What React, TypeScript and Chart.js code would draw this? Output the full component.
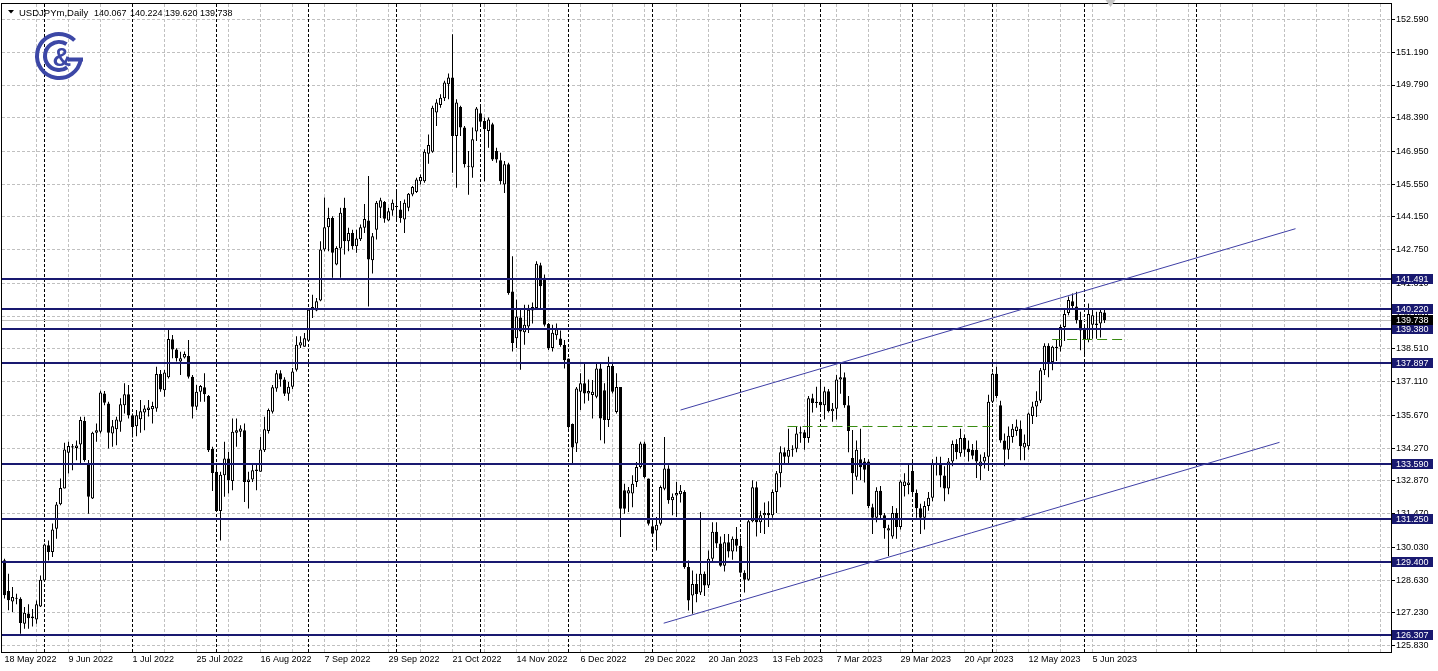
import React, { useEffect, useRef } from 'react';
import { Chart, registerables } from 'chart.js';

Chart.register(...registerables);

const symbolTitle = 'USDJPYm,Daily';
const headerOHLC = ['140.067', '140.224', '139.620', '139.738'];

const dateLabels = [
  '18 May 2022', '9 Jun 2022', '1 Jul 2022', '25 Jul 2022', '16 Aug 2022', '7 Sep 2022',
  '29 Sep 2022', '21 Oct 2022', '14 Nov 2022', '6 Dec 2022', '29 Dec 2022', '20 Jan 2023',
  '13 Feb 2023', '7 Mar 2023', '29 Mar 2023', '20 Apr 2023', '12 May 2023', '5 Jun 2023',
];

const priceTicks = [
  152.59, 151.19, 149.79, 148.39, 146.95, 145.55, 144.15, 142.75, 141.31, 139.91,
  138.51, 137.11, 135.67, 134.27, 132.87, 131.47, 130.03, 128.63, 127.23, 125.83,
];

const levelPrices = [141.491, 140.22, 139.38, 137.897, 133.59, 131.25, 129.4, 126.307];
const bidPrice = 139.738;
const monthStarts = [10, 32, 53, 76, 98, 119, 141, 162, 184, 204, 227, 247, 270, 298];
const channelUpper = [{ x: 169, y: 135.9 }, { x: 322.75, y: 143.65 }];
const channelLower = [{ x: 164.8, y: 126.79 }, { x: 318.75, y: 134.52 }];
const greenSegments = [
  { x1: 195.75, x2: 248.25, y: 135.21 },
  { x1: 261.9, x2: 280.7, y: 138.92 },
];
const shiftMarkerIndex = 276.5;

const opens = [
  129.48, 128.17, 127.72, 127.87, 127.84, 126.77, 127.20, 127.08, 126.95, 127.50,
  128.62, 130.12, 129.83, 130.83, 131.87, 132.55, 134.08, 134.30, 134.28, 134.43,
  135.43, 133.64, 132.12, 134.93, 134.97, 136.61, 136.18, 134.90, 135.08, 135.40,
  136.11, 136.58, 135.68, 135.21, 135.51, 135.80, 135.90, 135.93, 135.97, 137.44,
  136.75, 137.30, 138.92, 138.49, 137.97, 138.15, 138.21, 137.32, 136.04, 136.68,
  136.87, 136.50, 134.25, 133.26, 131.59, 133.11, 133.83, 132.87, 134.93, 134.97,
  135.04, 132.83, 132.93, 133.30, 133.26, 134.18, 135.00, 135.83, 136.82, 137.47,
  137.20, 136.60, 136.90, 137.62, 138.66, 138.60, 138.86, 140.20, 140.15, 140.58,
  142.76, 143.71, 144.11, 142.12, 142.80, 144.54, 143.11, 143.47, 142.90, 143.20,
  143.69, 144.00, 142.30, 143.61, 144.54, 144.79, 144.00, 144.43, 144.58, 144.47,
  144.04, 144.54, 145.11, 145.22, 145.68, 145.68, 146.85, 146.94, 148.61, 148.94,
  149.22, 149.82, 150.11, 147.61, 148.85, 147.97, 146.30, 146.26, 147.80, 148.58,
  148.25, 147.83, 148.11, 146.97, 146.58, 145.54, 146.40, 140.97, 138.97, 139.86,
  139.22, 139.47, 140.15, 140.26, 142.09, 141.55, 139.58, 138.55, 139.10, 138.96,
  138.68, 138.10, 135.30, 134.47, 136.68, 137.04, 136.61, 136.54, 136.47, 137.68,
  136.75, 135.47, 137.78, 135.82, 136.89, 132.47, 132.33, 132.33, 132.82, 133.47,
  134.47, 132.97, 130.93, 130.75, 131.04, 132.54, 133.40, 132.04, 132.25, 132.30,
  132.40, 129.19, 127.97, 128.47, 128.10, 128.90, 128.40, 129.55, 130.70, 130.20,
  129.25, 130.25, 129.85, 130.40, 130.10, 128.95, 128.65, 131.15, 132.60, 131.10,
  131.40, 131.50, 131.40, 132.40, 133.20, 134.10, 133.90, 134.20, 134.25, 134.90,
  134.95, 134.70, 136.40, 136.20, 136.25, 136.10, 136.70, 135.85, 135.95, 137.20,
  137.30, 136.10, 133.85, 133.05, 133.80, 133.70, 133.70, 131.75, 131.30, 132.45,
  131.40, 130.75, 130.50, 131.50, 130.90, 132.65, 132.70, 133.30, 132.35, 131.70,
  131.30, 131.80, 132.15, 133.60, 133.60, 133.10, 132.55, 133.70, 134.45, 134.05,
  134.70, 134.25, 134.20, 134.20, 133.50, 133.70, 133.90, 136.25, 137.45, 136.10,
  134.60, 134.20, 134.75, 135.00, 135.10, 134.30, 134.35, 135.65, 136.05, 136.30,
  137.60, 138.65, 137.95, 138.55, 138.60, 139.45, 140.05, 140.55, 140.32, 139.75,
  139.35, 138.90, 139.55, 139.60, 139.60, 140.067,
];

const highs = [
  129.55, 128.90, 128.34, 128.05, 127.90, 127.48, 127.60, 127.40, 127.76, 128.83,
  130.20, 130.33, 131.05, 131.97, 132.97, 134.50, 134.54, 134.45, 134.60, 135.61,
  135.61, 133.76, 134.97, 135.33, 136.72, 136.71, 136.25, 135.47, 135.61, 136.40,
  137.04, 136.97, 135.75, 135.90, 136.33, 136.11, 136.33, 136.25, 137.75, 137.61,
  137.61, 139.39, 139.11, 138.54, 138.39, 138.40, 138.89, 137.40, 136.97, 136.97,
  137.47, 136.54, 134.33, 133.47, 133.26, 134.54, 134.11, 135.54, 135.54, 135.25,
  135.33, 133.26, 133.64, 133.62, 134.75, 135.61, 135.97, 136.97, 137.61, 137.60,
  137.30, 137.10, 137.70, 139.05, 139.05, 139.19, 140.26, 140.83, 140.69, 143.11,
  144.98, 144.54, 144.18, 142.90, 144.54, 144.97, 143.69, 143.61, 143.61, 143.83,
  144.71, 145.90, 143.47, 144.83, 144.97, 144.83, 144.54, 144.90, 145.33, 144.83,
  144.90, 145.18, 145.47, 145.83, 145.97, 147.04, 147.68, 148.90, 149.18, 149.40,
  149.97, 150.28, 151.96, 149.18, 148.90, 148.04, 146.97, 147.97, 148.85, 148.90,
  148.40, 148.40, 148.18, 147.11, 146.90, 146.54, 146.47, 142.47, 140.61, 140.26,
  140.40, 140.40, 140.50, 142.26, 142.19, 141.69, 139.62, 139.55, 139.60, 139.30,
  138.89, 138.10, 135.32, 136.89, 137.47, 137.90, 137.20, 137.18, 137.90, 137.90,
  137.04, 138.18, 137.90, 137.47, 136.89, 132.75, 132.61, 133.11, 133.68, 134.54,
  134.54, 132.97, 131.18, 131.33, 132.68, 134.75, 133.54, 132.33, 132.82, 132.70,
  132.47, 129.47, 129.04, 128.90, 131.54, 129.00, 129.90, 131.10, 131.10, 130.50,
  130.60, 130.60, 130.50, 130.90, 130.45, 129.05, 131.20, 132.90, 132.85, 131.60,
  131.95, 132.00, 132.50, 133.30, 134.35, 134.30, 135.10, 134.40, 135.20, 135.20,
  135.05, 136.50, 136.60, 136.90, 137.10, 136.90, 136.80, 136.20, 137.40, 137.90,
  137.50, 136.50, 135.05, 134.60, 135.10, 133.85, 133.80, 131.90, 132.60, 132.65,
  131.50, 131.00, 131.80, 131.70, 132.90, 133.20, 133.60, 133.75, 132.50, 131.90,
  132.00, 132.40, 133.80, 133.90, 133.90, 133.50, 133.85, 134.60, 134.65, 135.10,
  134.85, 134.60, 134.45, 134.60, 134.00, 134.10, 136.55, 137.50, 137.75, 136.30,
  134.90, 135.20, 135.30, 135.50, 135.45, 134.85, 135.80, 136.25, 136.70, 137.70,
  138.75, 138.75, 138.65, 138.90, 139.55, 140.20, 140.75, 140.88, 140.95, 140.10,
  139.55, 140.45, 140.20, 140.10, 140.20, 140.224,
];

const lows = [
  127.85, 127.34, 127.27, 127.60, 126.34, 126.55, 126.55, 126.65, 126.77, 127.48,
  128.55, 129.47, 129.62, 130.40, 131.83, 132.55, 133.19, 133.33, 133.75, 133.61,
  133.69, 131.47, 132.10, 134.54, 134.90, 136.11, 134.26, 134.33, 134.40, 134.97,
  135.75, 135.54, 134.73, 134.78, 134.93, 135.04, 135.62, 135.33, 135.83, 136.68,
  136.47, 137.25, 138.11, 137.97, 137.40, 138.10, 137.25, 135.54, 135.90, 136.25,
  136.25, 134.11, 132.44, 131.54, 130.33, 132.19, 132.33, 132.47, 134.33, 134.75,
  131.97, 131.69, 132.83, 132.47, 133.26, 134.11, 134.90, 135.75, 136.68, 136.90,
  136.50, 136.30, 136.80, 137.55, 138.55, 138.60, 138.83, 139.83, 140.12, 140.55,
  142.69, 142.69, 141.55, 142.09, 141.55, 142.55, 142.69, 142.76, 142.62, 143.12,
  143.47, 140.33, 141.73, 143.19, 144.11, 143.90, 143.97, 144.20, 143.97, 143.90,
  143.47, 144.40, 145.04, 145.18, 145.54, 145.61, 146.43, 146.90, 148.04, 148.82,
  149.11, 149.18, 146.04, 145.40, 147.61, 146.26, 145.10, 145.83, 147.40, 148.11,
  145.68, 147.11, 146.54, 146.47, 145.54, 145.18, 140.83, 138.40, 138.55, 137.62,
  138.69, 139.19, 139.60, 140.19, 140.19, 139.47, 138.47, 138.40, 138.90, 138.60,
  137.68, 135.10, 133.60, 134.11, 135.90, 136.18, 136.30, 135.54, 136.40, 134.61,
  134.47, 135.18, 136.61, 135.75, 130.47, 131.47, 131.54, 131.75, 132.61, 133.40,
  132.97, 130.97, 130.54, 129.90, 130.97, 132.47, 131.90, 131.40, 131.33, 131.95,
  129.12, 127.33, 127.19, 127.69, 128.00, 127.95, 128.30, 129.40, 130.00, 129.20,
  129.00, 129.60, 129.50, 129.85, 128.90, 128.10, 128.60, 131.10, 130.50, 130.65,
  130.60, 130.90, 131.30, 131.50, 132.60, 133.60, 133.60, 133.90, 134.10, 134.50,
  134.20, 134.50, 135.80, 136.00, 135.90, 135.50, 135.80, 135.40, 135.50, 136.60,
  136.00, 134.10, 132.30, 132.90, 132.90, 132.80, 131.70, 130.60, 131.10, 131.20,
  130.40, 129.65, 130.40, 130.40, 130.80, 132.20, 132.30, 132.30, 131.30, 130.60,
  130.80, 131.60, 132.00, 133.10, 132.60, 132.00, 132.30, 133.50, 133.80, 133.90,
  133.90, 133.70, 133.80, 133.00, 132.90, 133.40, 133.30, 136.20, 136.40, 134.50,
  133.50, 133.80, 134.50, 134.80, 133.75, 133.75, 134.20, 135.30, 135.60, 136.20,
  137.40, 137.30, 137.60, 138.00, 138.40, 138.85, 139.95, 140.20, 139.60, 138.45,
  138.30, 138.80, 138.95, 138.95, 139.00, 139.620,
];

const closes = [
  127.98, 127.77, 127.91, 127.84, 126.80, 127.24, 127.00, 127.00, 127.60, 128.65,
  130.15, 129.83, 130.79, 131.86, 132.57, 134.21, 134.36, 134.35, 134.38, 135.47,
  133.76, 132.19, 134.93, 135.04, 136.65, 136.21, 134.93, 135.21, 135.50, 136.15,
  136.58, 135.68, 135.18, 135.68, 135.85, 135.97, 136.01, 136.07, 137.44, 136.78,
  137.50, 138.94, 138.49, 138.11, 138.11, 138.29, 137.32, 136.04, 136.68, 136.93,
  136.58, 134.18, 133.21, 131.59, 133.14, 133.83, 132.90, 134.97, 135.04, 135.11,
  132.83, 132.93, 133.33, 133.36, 134.21, 135.08, 135.90, 136.87, 137.47, 137.20,
  136.60, 136.90, 137.55, 138.69, 138.80, 138.97, 140.19, 140.30, 140.55, 142.76,
  143.71, 144.11, 142.62, 142.83, 144.33, 143.11, 143.47, 142.90, 143.23, 143.71,
  144.06, 142.33, 143.33, 144.76, 144.86, 144.07, 144.40, 144.76, 144.60, 144.11,
  144.76, 145.14, 145.43, 145.75, 145.86, 146.94, 147.23, 148.82, 149.04, 149.25,
  149.90, 150.11, 147.61, 149.04, 147.97, 146.40, 146.33, 147.47, 148.79, 148.22,
  147.90, 148.32, 146.61, 146.61, 145.68, 146.40, 140.90, 138.76, 139.90, 139.26,
  139.55, 140.19, 140.30, 142.15, 141.19, 139.55, 138.55, 139.20, 139.35, 138.68,
  138.03, 135.18, 134.30, 136.82, 137.04, 136.61, 136.71, 136.68, 137.68, 135.54,
  135.47, 137.78, 136.68, 136.89, 131.68, 131.68, 132.47, 132.75, 133.47, 134.47,
  133.04, 131.04, 130.61, 131.00, 132.61, 133.40, 132.04, 132.19, 132.36, 132.45,
  129.19, 127.76, 128.47, 128.04, 128.90, 128.40, 129.55, 130.70, 130.20, 129.25,
  130.25, 129.85, 130.40, 130.10, 128.95, 128.65, 131.15, 132.60, 131.10, 131.40,
  131.50, 131.40, 132.40, 133.20, 134.10, 133.90, 134.20, 134.25, 134.90, 134.95,
  134.70, 136.40, 136.20, 136.25, 136.10, 136.70, 135.85, 135.95, 137.20, 137.30,
  136.10, 135.00, 133.20, 134.20, 133.45, 133.35, 131.80, 131.30, 132.45, 131.40,
  130.85, 130.85, 131.50, 130.90, 132.85, 132.85, 132.80, 132.40, 131.70, 131.30,
  131.80, 132.15, 133.60, 133.65, 133.10, 132.55, 133.70, 134.45, 134.10, 134.70,
  134.20, 134.10, 133.95, 133.70, 133.70, 133.90, 136.25, 137.45, 136.50, 134.60,
  134.20, 134.80, 135.10, 135.20, 134.35, 134.50, 135.75, 136.05, 136.30, 137.60,
  138.65, 137.90, 138.60, 138.60, 139.45, 140.00, 140.60, 140.35, 139.75, 139.30,
  138.90, 140.00, 139.95, 139.53, 140.10, 139.738,
];

const X_MIN = -0.625;
const X_MAX = 346.625;
const Y_MIN = 125.56;
const Y_MAX = 153.252;
const FONT = '"Liberation Sans", Arial, sans-serif';
const NAVY = '#191970';

const xTickValues: number[] = [];
for (let v = 0; v <= 344; v += 8) xTickValues.push(v);

const mtPlugin = {
  id: 'mtOverlay',
  beforeDraw(chart: any) {
    const { ctx, width, height } = chart;
    ctx.save();
    ctx.fillStyle = '#ffffff';
    ctx.fillRect(0, 0, width, height);
    ctx.restore();
  },
  beforeDatasetsDraw(chart: any) {
    const { ctx, chartArea: a } = chart;
    const xs = chart.scales.x;
    const ys = chart.scales.y;
    ctx.save();
    ctx.beginPath();
    ctx.rect(a.left, a.top, a.right - a.left, a.bottom - a.top);
    ctx.clip();
    ctx.lineWidth = 1;
    ctx.setLineDash([3, 2]);
    ctx.strokeStyle = '#c0c0c0';
    for (const v of priceTicks) {
      const py = Math.floor(ys.getPixelForValue(v)) + 0.5;
      ctx.beginPath();
      ctx.moveTo(a.left, py);
      ctx.lineTo(a.right, py);
      ctx.stroke();
    }
    for (const v of xTickValues) {
      if (v === 0) continue;
      const px = Math.floor(xs.getPixelForValue(v)) + 0.5;
      ctx.beginPath();
      ctx.moveTo(px, a.top);
      ctx.lineTo(px, a.bottom);
      ctx.stroke();
    }
    ctx.strokeStyle = '#000000';
    for (const v of monthStarts) {
      const px = Math.floor(xs.getPixelForValue(v)) + 0.5;
      ctx.beginPath();
      ctx.moveTo(px, a.top);
      ctx.lineTo(px, a.bottom);
      ctx.stroke();
    }
    ctx.setLineDash([]);
    ctx.strokeStyle = '#c0c0c0';
    const by = Math.floor(ys.getPixelForValue(bidPrice)) + 0.5;
    ctx.beginPath();
    ctx.moveTo(a.left, by);
    ctx.lineTo(a.right, by);
    ctx.stroke();
    ctx.restore();
  },
  afterDatasetsDraw(chart: any) {
    const { ctx, chartArea: a } = chart;
    const xs = chart.scales.x;
    const ys = chart.scales.y;
    ctx.save();
    ctx.beginPath();
    ctx.rect(a.left, a.top, a.right - a.left, a.bottom - a.top);
    ctx.clip();
    ctx.strokeStyle = NAVY;
    ctx.lineWidth = 2;
    for (const p of levelPrices) {
      const py = Math.round(ys.getPixelForValue(p));
      ctx.beginPath();
      ctx.moveTo(a.left, py);
      ctx.lineTo(a.right, py);
      ctx.stroke();
    }
    ctx.strokeStyle = '#3f3fa6';
    ctx.lineWidth = 1;
    for (const seg of [channelUpper, channelLower]) {
      ctx.beginPath();
      ctx.moveTo(xs.getPixelForValue(seg[0].x), ys.getPixelForValue(seg[0].y));
      ctx.lineTo(xs.getPixelForValue(seg[1].x), ys.getPixelForValue(seg[1].y));
      ctx.stroke();
    }
    ctx.strokeStyle = '#3a8c12';
    ctx.setLineDash([10, 5]);
    for (const g of greenSegments) {
      const py = Math.floor(ys.getPixelForValue(g.y)) + 0.5;
      ctx.beginPath();
      ctx.moveTo(xs.getPixelForValue(g.x1), py);
      ctx.lineTo(xs.getPixelForValue(g.x2), py);
      ctx.stroke();
    }
    ctx.restore();
  },
  afterDraw(chart: any) {
    const { ctx, chartArea: a } = chart;
    const xs = chart.scales.x;
    const ys = chart.scales.y;
    ctx.save();
    ctx.strokeStyle = '#000';
    ctx.lineWidth = 1;
    ctx.strokeRect(a.left - 0.5, a.top - 0.5, a.right - a.left + 1, a.bottom - a.top + 1);
    for (const v of priceTicks) {
      const py = Math.floor(ys.getPixelForValue(v)) + 0.5;
      ctx.beginPath();
      ctx.moveTo(a.right, py);
      ctx.lineTo(a.right + 4, py);
      ctx.stroke();
    }
    ctx.font = `9px ${FONT}`;
    ctx.textBaseline = 'middle';
    ctx.textAlign = 'left';
    const drawBox = (p: number, bg: string) => {
      const py = Math.round(ys.getPixelForValue(p));
      ctx.fillStyle = bg;
      ctx.fillRect(a.right + 1, py - 5, 41, 10);
      ctx.fillStyle = '#fff';
      ctx.fillText(p.toFixed(3), a.right + 5, py + 0.5);
    };
    for (const p of levelPrices) drawBox(p, NAVY);
    drawBox(bidPrice, '#000');
    // header
    ctx.fillStyle = '#000';
    ctx.beginPath();
    ctx.moveTo(8, 10);
    ctx.lineTo(14, 10);
    ctx.lineTo(11, 13.5);
    ctx.closePath();
    ctx.fill();
    ctx.font = `9.5px ${FONT}`;
    ctx.textBaseline = 'alphabetic';
    ctx.fillText(symbolTitle, 19, 16);
    ctx.font = `9px ${FONT}`;
    const headerX = [94, 130, 165, 200];
    headerOHLC.forEach((s, k) => ctx.fillText(s, headerX[k], 16));
    // logo
    const cx = 59, cy = 56;
    ctx.strokeStyle = '#3c47a6';
    ctx.fillStyle = '#3c47a6';
    ctx.lineWidth = 4;
    ctx.beginPath();
    ctx.arc(cx, cy, 22, 0.05 * Math.PI, 1.75 * Math.PI);
    ctx.stroke();
    ctx.beginPath();
    ctx.moveTo(cx + 24, cy + 3.5);
    ctx.lineTo(cx + 9, cy + 3.5);
    ctx.stroke();
    ctx.beginPath();
    ctx.arc(cx, cy, 14, 0.3 * Math.PI, 1.68 * Math.PI);
    ctx.stroke();
    ctx.font = `bold 26px ${FONT}`;
    ctx.textAlign = 'center';
    ctx.textBaseline = 'middle';
    ctx.fillText('&', cx + 3, cy + 3);
    // shift marker
    const mx = xs.getPixelForValue(shiftMarkerIndex);
    ctx.fillStyle = '#c4c4c4';
    ctx.beginPath();
    ctx.moveTo(mx - 5, 0);
    ctx.lineTo(mx + 5, 0);
    ctx.lineTo(mx, 7);
    ctx.closePath();
    ctx.fill();
    ctx.restore();
  },
};

export default function App() {
  const ref = useRef<HTMLCanvasElement>(null);
  useEffect(() => {
    document.body.style.margin = '0';
    const canvas = ref.current;
    if (!canvas) return;
    const wickData = opens.map((o, i) => ({ x: i, y: [lows[i], highs[i]] }));
    const bodyData = opens.map((o, i) => ({ x: i, y: [Math.min(o, closes[i]), Math.max(o, closes[i])] }));
    const bodyFill = opens.map((o, i) => (closes[i] >= o ? '#ffffff' : '#000000'));
    const chart = new Chart(canvas, {
      type: 'bar',
      data: {
        datasets: [
          {
            label: 'wick',
            data: wickData as any,
            backgroundColor: '#000000',
            borderWidth: 0,
            barThickness: 1,
            grouped: false,
            order: 2,
            inflateAmount: 0,
          } as any,
          {
            label: 'body',
            data: bodyData as any,
            backgroundColor: bodyFill,
            borderColor: '#000000',
            borderWidth: 1,
            borderSkipped: false,
            barThickness: 3,
            grouped: false,
            order: 1,
            inflateAmount: 0,
            minBarLength: 1,
          } as any,
        ],
      },
      options: {
        animation: false,
        responsive: false,
        devicePixelRatio: 1,
        events: [],
        layout: { padding: { left: 2, top: 4, right: 0, bottom: 0 } },
        plugins: { legend: { display: false }, tooltip: { enabled: false }, title: { display: false } },
        scales: {
          x: {
            type: 'linear',
            min: X_MIN,
            max: X_MAX,
            bounds: 'data',
            offset: false,
            grid: { display: false, drawTicks: false },
            border: { display: false },
            afterBuildTicks: (s: any) => {
              s.ticks = xTickValues.map((v) => ({ value: v }));
            },
            afterFit: (s: any) => {
              s.height = 19;
              s.paddingLeft = 0;
              s.paddingRight = 0;
              s.paddingTop = 0;
              s.paddingBottom = 0;
            },
            ticks: {
              autoSkip: false,
              maxRotation: 0,
              minRotation: 0,
              align: 'start',
              padding: 2,
              color: '#000',
              font: { family: FONT, size: 9 },
              callback: (v: any) => {
                const n = Number(v);
                return n % 16 === 0 && dateLabels[n / 16] ? dateLabels[n / 16] : '';
              },
            },
          } as any,
          y: {
            type: 'linear',
            position: 'right',
            min: Y_MIN,
            max: Y_MAX,
            bounds: 'data',
            grid: { display: false, drawTicks: false },
            border: { display: false },
            afterBuildTicks: (s: any) => {
              s.ticks = priceTicks.map((v) => ({ value: v }));
            },
            afterFit: (s: any) => {
              s.width = 47;
              s.paddingTop = 0;
              s.paddingBottom = 0;
              s.paddingLeft = 0;
              s.paddingRight = 0;
            },
            ticks: {
              autoSkip: false,
              padding: 5,
              color: '#000',
              font: { family: FONT, size: 9 },
              callback: (v: any) => Number(v).toFixed(3),
            },
          } as any,
        },
      } as any,
      plugins: [mtPlugin],
    });
    return () => chart.destroy();
  }, []);
  return (
    <div style={{ position: 'absolute', left: 0, top: 0, width: 1438, height: 671, background: '#fff' }}>
      <canvas ref={ref} width={1438} height={671} style={{ display: 'block', width: 1438, height: 671 }} />
    </div>
  );
}
